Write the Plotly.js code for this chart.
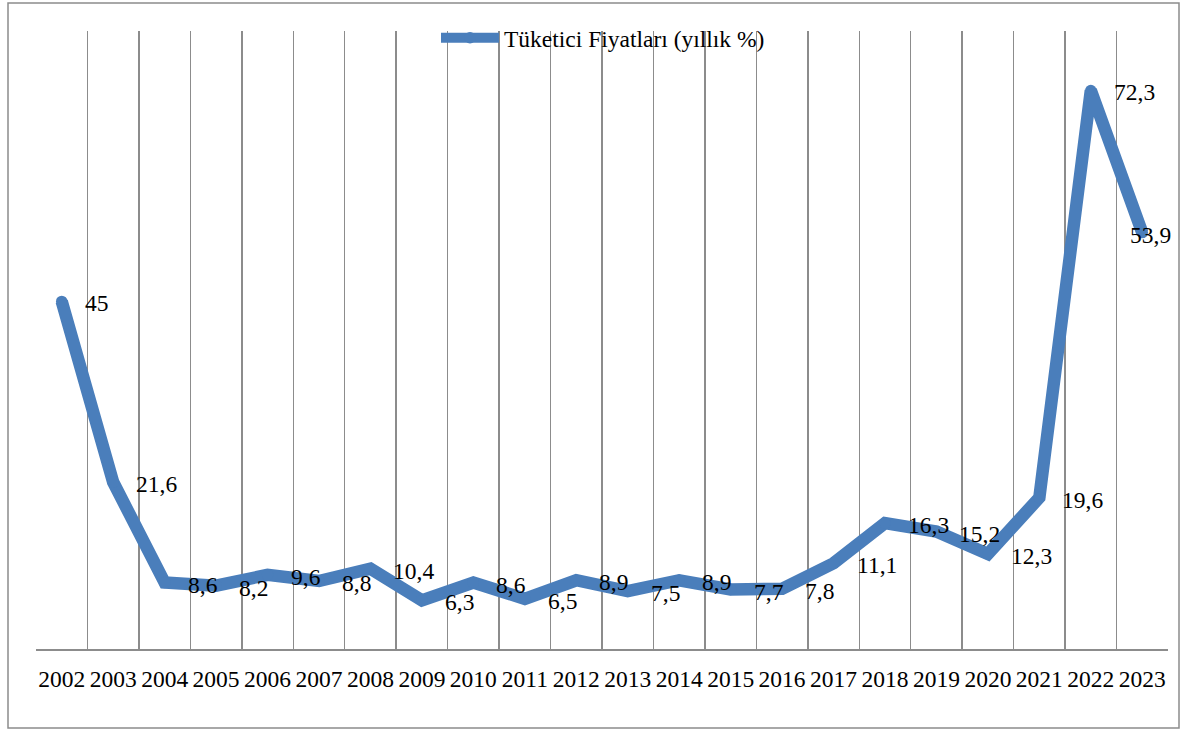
<!DOCTYPE html>
<html>
<head>
<meta charset="utf-8">
<script src="https://cdn.plot.ly/plotly-3.0.1.min.js"></script>
<style>
html,body{margin:0;padding:0;background:#fff;}
#chart{width:1182px;height:730px;}
</style>
</head>
<body>
<div id="chart"></div>
<script>
const years = ["2002","2003","2004","2005","2006","2007","2008","2009","2010","2011","2012","2013","2014","2015","2016","2017","2018","2019","2020","2021","2022","2023"];
const cpi = [45, 21.6, 8.6, 8.2, 9.6, 8.8, 10.4, 6.3, 8.6, 6.5, 8.9, 7.5, 8.9, 7.7, 7.8, 11.1, 16.3, 15.2, 12.3, 19.6, 72.3, 53.9];
const seriesName = "Tüketici Fiyatları (yıllık %)";
const labels = cpi.map(v => String(v).replace('.', ','));

const lineColor = '#4a7ebb';
const font = 'Liberation Serif, serif';
const fs = 23.5;

const trace = {
  x: years, y: cpi, type: 'scatter', mode: 'lines+markers',
  name: seriesName,
  line: {color: lineColor, width: 12.5},
  marker: {color: lineColor, size: 11.5},
  showlegend: true,
  hoverinfo: 'skip'
};

const last = years.length - 1;
const annotations = years.map((yr, i) => ({
  x: i, y: cpi[i], xref: 'x', yref: 'y',
  text: labels[i], showarrow: false,
  xanchor: i === last ? 'right' : 'left', yanchor: 'middle',
  xshift: i === last ? 31 : 21, yshift: -2,
  font: {family: font, size: fs, color: '#000'}
}));

const ml = 36, mr = 14, mt = 31, mb = 81;
const W = 1182, H = 730, pw = W - ml - mr, ph = H - mt - mb;
const px = v => (v - ml) / pw;
const py = v => (H - mb - v) / ph;

const layout = {
  width: W, height: H,
  margin: {l: ml, r: mr, t: mt, b: mb, pad: 0},
  paper_bgcolor: '#fff', plot_bgcolor: '#fff',
  font: {family: font, size: fs, color: '#000'},
  showlegend: true,
  legend: {
    orientation: 'h', x: px(603), xanchor: 'center', y: py(38), yanchor: 'middle',
    bgcolor: 'rgba(0,0,0,0)', font: {family: font, size: fs, color: '#000'},
    itemwidth: 58
  },
  xaxis: {
    type: 'category', tickson: 'boundaries', showgrid: true,
    gridcolor: '#8c8c8c', gridwidth: 1.5,
    showline: true, linecolor: '#8c8c8c', linewidth: 1.5,
    ticks: '', range: [-0.5, years.length - 0.5], tickangle: 0,
    ticklabelstandoff: 8,
    tickfont: {family: font, size: fs, color: '#000'},
    zeroline: false, fixedrange: true
  },
  yaxis: {
    range: [0, 80], showgrid: false, showticklabels: false, zeroline: false,
    showline: false, ticks: '', fixedrange: true
  },
  annotations: annotations,
  shapes: [{
    type: 'rect', xref: 'paper', yref: 'paper',
    x0: px(8), x1: px(1179), y0: py(728), y1: py(3),
    line: {color: '#8c8c8c', width: 1.5}, fillcolor: 'rgba(0,0,0,0)', layer: 'below'
  }]
};

Plotly.newPlot('chart', [trace], layout, {displayModeBar: false, staticPlot: true});
</script>
</body>
</html>
